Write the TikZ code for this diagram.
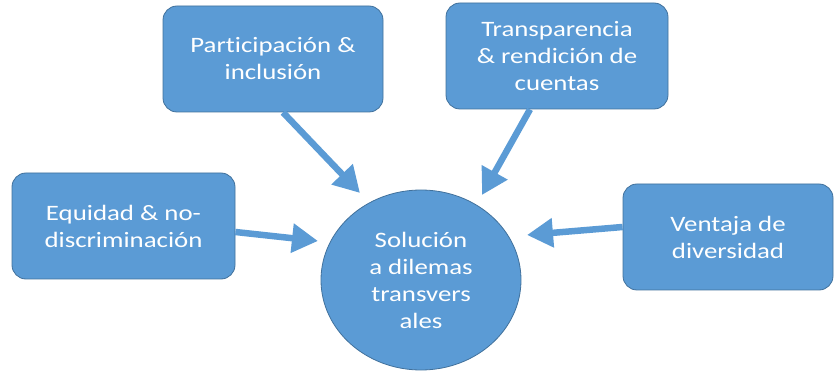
\documentclass[tikz,border=0pt]{standalone}
\usepackage{fontspec}
\setmainfont{Carlito}[FakeStretch=1.22,Ligatures=NoCommon]
\usetikzlibrary{arrows.meta,shapes.geometric}
\definecolor{fillblue}{HTML}{5B9BD5}
\definecolor{edgeblue}{HTML}{41719C}
\begin{document}
\begin{tikzpicture}[x=1pt,y=-1pt,
  box/.style={draw=edgeblue, line width=0.8pt, fill=fillblue, rounded corners=14pt,
    text=white, align=center, font=\fontsize{22}{27}\selectfont, inner sep=0pt,
    minimum height=106pt},
  hub/.style={ellipse, draw=edgeblue, line width=0.8pt, fill=fillblue, text=white,
    align=center, font=\fontsize{22}{27}\selectfont, inner sep=0pt,
    minimum width=200pt, minimum height=180pt},
  arr/.style={draw=fillblue, line width=6.5pt, -{Triangle[width=28pt,length=26pt]}}]
\useasboundingbox (0,0) rectangle (835,371);
\node[box, minimum width=220pt] (p) at (273,59) {Participación \&\\inclusión};
\node[box, minimum width=222pt] (t) at (557,56) {Transparencia\\\& rendición de\\cuentas};
\node[box, minimum width=223pt] (e) at (123.5,226) {Equidad \& no-\\discriminación};
\node[box, minimum width=210pt] (v) at (728,237) {Ventaja de\\diversidad};
\node[hub] (c) at (421,280) {Solución\\a dilemas\\transvers\\ales};
\coordinate (tp) at (360,193);
\coordinate (tt) at (482,195);
\coordinate (te) at (318,241);
\coordinate (tv) at (527,235);
\draw[arr] ([xshift=10pt]p.south) -- (tp);
\draw[arr] ([xshift=-27pt]t.south) -- (tt);
\draw[arr] ([yshift=-6pt]e.east) -- (te);
\draw[arr] ([yshift=10pt]v.west) -- (tv);
\end{tikzpicture}
\end{document}
